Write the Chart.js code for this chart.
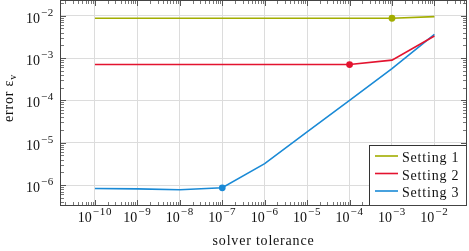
<!DOCTYPE html>
<html lang="en">
<head>
<meta charset="UTF-8">
<title>Error vs solver tolerance</title>
<script src="https://cdn.jsdelivr.net/npm/chart.js"></script>
<style>
  html, body { margin: 0; padding: 0; background: #fff; }
</style>
</head>
<body>
<canvas id="errChart" width="469" height="251"></canvas>
<script>
// data
const tolerances = [1e-10, 1e-9, 1e-8, 1e-7, 1e-6, 1e-5, 1e-4, 1e-3, 1e-2];
const setting1 = [8.7e-3, 8.7e-3, 8.7e-3, 8.7e-3, 8.7e-3, 8.7e-3, 8.7e-3, 8.7e-3, 9.5e-3];
const setting2 = [7.0e-4, 7.0e-4, 7.0e-4, 7.0e-4, 7.0e-4, 7.0e-4, 7.0e-4, 8.9e-4, 3.3e-3];
const setting3 = [8.3e-7, 8.1e-7, 7.7e-7, 8.6e-7, 3.2e-6, 1.8e-5, 1.0e-4, 5.6e-4, 3.6e-3];
const markedTolerance = [1e-3, 1e-4, 1e-7];   // highlighted point per setting
const seriesNames = ['Setting 1', 'Setting 2', 'Setting 3'];
const xTicks = [1e-10, 1e-9, 1e-8, 1e-7, 1e-6, 1e-5, 1e-4, 1e-3, 1e-2];
const yTicks = [1e-6, 1e-5, 1e-4, 1e-3, 1e-2];

const colors = ['#a2ad00', '#e3132f', '#1a8ad6'];
const SERIF = '"Liberation Serif", "Times New Roman", serif';

function makeSet(i, values) {
    return {
        label: seriesNames[i],
        data: tolerances.map((t, j) => ({ x: t, y: values[j] })),
        borderColor: colors[i],
        backgroundColor: colors[i],
        borderWidth: 1.6,
        pointRadius: ctx => (ctx.raw && ctx.raw.x === markedTolerance[i]) ? 3.4 : 0,
        pointBorderWidth: 0,
        tension: 0
    };
}

// draws "10^e" with a raised exponent
function drawPow(ctx, v, x, y, align) {
    const e = Math.round(Math.log10(v));
    const base = '10';
    const sup = (e < 0 ? '\u2212' : '') + Math.abs(e);
    ctx.letterSpacing = '0px';
    ctx.font = '14px ' + SERIF;
    const wb = ctx.measureText(base).width;
    ctx.letterSpacing = '0.7px';
    ctx.font = '11px ' + SERIF;
    const ws = ctx.measureText(sup).width;
    const total = wb + 1 + ws;
    const x0 = align === 'center' ? x - total / 2 : x - total;
    ctx.textAlign = 'left';
    ctx.textBaseline = 'alphabetic';
    ctx.letterSpacing = '0px';
    ctx.font = '14px ' + SERIF;
    ctx.fillText(base, x0, y);
    ctx.letterSpacing = '0.7px';
    ctx.font = '11px ' + SERIF;
    ctx.fillText(sup, x0 + wb + 1, y - 7);
    ctx.letterSpacing = '0px';
}

function minorValues(scale) {
    const out = [];
    const lo = Math.floor(Math.log10(scale.min)), hi = Math.ceil(Math.log10(scale.max));
    for (let d = lo; d <= hi; d++) {
        for (let k = 2; k <= 9; k++) {
            const v = k * Math.pow(10, d);
            if (v > scale.min && v < scale.max) out.push(v);
        }
    }
    return out;
}

const framePlugin = {
    id: 'frame',
    afterDraw(chart) {
        const ctx = chart.ctx;
        const ca = chart.chartArea;
        const xs = chart.scales.x, ys = chart.scales.y;
        const L = Math.round(ca.left) + 0.5, R = Math.round(ca.right) - 0.5;
        const T = Math.round(ca.top) - 0.5, B = Math.round(ca.bottom) - 0.5;
        ctx.save();

        // tick marks on all four sides
        ctx.lineWidth = 0.8;
        ctx.strokeStyle = '#555';
        ctx.beginPath();
        minorValues(xs).forEach(v => {
            const p = Math.round(xs.getPixelForValue(v)) + 0.5;
            ctx.moveTo(p, B); ctx.lineTo(p, B - 3.5);
            ctx.moveTo(p, T); ctx.lineTo(p, T + 3.5);
        });
        minorValues(ys).forEach(v => {
            const p = Math.round(ys.getPixelForValue(v)) + 0.5;
            ctx.moveTo(L, p); ctx.lineTo(L + 3.5, p);
            ctx.moveTo(R, p); ctx.lineTo(R - 3.5, p);
        });
        ctx.stroke();
        ctx.lineWidth = 1;
        ctx.beginPath();
        xTicks.forEach(v => {
            const p = Math.round(xs.getPixelForValue(v)) + 0.5;
            ctx.moveTo(p, B); ctx.lineTo(p, B - 5.5);
            ctx.moveTo(p, T); ctx.lineTo(p, T + 5.5);
        });
        yTicks.forEach(v => {
            const p = Math.round(ys.getPixelForValue(v)) + 0.5;
            ctx.moveTo(L, p); ctx.lineTo(L + 5.5, p);
            ctx.moveTo(R, p); ctx.lineTo(R - 5.5, p);
        });
        ctx.stroke();

        // legend box, bottom right
        const lx = 369.5, ly = 145.5, lw = R - lx, lh = B - ly;
        ctx.fillStyle = '#fff';
        ctx.fillRect(lx, ly, lw, lh);
        ctx.strokeStyle = '#333';
        ctx.lineWidth = 1;
        ctx.strokeRect(lx, ly, lw, lh);
        ctx.letterSpacing = '0.8px';
        seriesNames.forEach((name, i) => {
            const yy = 156 + i * 17.5;
            ctx.strokeStyle = colors[i];
            ctx.lineWidth = 1.6;
            ctx.beginPath();
            ctx.moveTo(375, yy); ctx.lineTo(398, yy);
            ctx.stroke();
            ctx.fillStyle = '#111';
            ctx.font = '14px ' + SERIF;
            ctx.textAlign = 'left';
            ctx.textBaseline = 'alphabetic';
            ctx.fillText(name, 402, yy + 6);
        });
        ctx.letterSpacing = '0px';

        // frame
        ctx.strokeStyle = '#444';
        ctx.lineWidth = 1;
        ctx.strokeRect(L, T, R - L, B - T);

        // tick labels
        ctx.fillStyle = '#111';
        xTicks.forEach(v => drawPow(ctx, v, xs.getPixelForValue(v), 222, 'center'));
        yTicks.forEach(v => drawPow(ctx, v, 54, ys.getPixelForValue(v) + 7, 'right'));

        // axis titles
        ctx.letterSpacing = '0.8px';
        ctx.font = '14px ' + SERIF;
        ctx.textAlign = 'center';
        ctx.fillText('solver tolerance', (ca.left + ca.right) / 2, 245);

        ctx.translate(12.5, 98);
        ctx.rotate(-Math.PI / 2);
        const main = 'error \u03b5';
        const wm = ctx.measureText(main).width;
        ctx.font = '10px ' + SERIF;
        const wv = ctx.measureText('v').width;
        const start = -(wm + wv) / 2;
        ctx.textAlign = 'left';
        ctx.font = '14px ' + SERIF;
        ctx.fillText(main, start, 0);
        ctx.font = '10px ' + SERIF;
        ctx.fillText('v', start + wm, 3);
        ctx.restore();
    }
};

const ctx = document.getElementById('errChart').getContext('2d');
new Chart(ctx, {
    type: 'line',
    data: {
        datasets: [
            makeSet(0, setting1),
            makeSet(1, setting2),
            makeSet(2, setting3)
        ]
    },
    options: {
        responsive: false,
        animation: false,
        layout: { padding: { top: 1, right: 2, left: 0, bottom: 0 } },
        plugins: { legend: { display: false }, tooltip: { enabled: false } },
        scales: {
            x: {
                type: 'logarithmic',
                min: Math.pow(10, -10.824),
                max: Math.pow(10, -1.232),
                afterBuildTicks: s => { s.ticks = xTicks.map(v => ({ value: v })); },
                afterFit: s => { s.height = 45; },
                ticks: { display: false },
                grid: { color: '#dcdcdc', lineWidth: 1, drawTicks: false },
                border: { display: false }
            },
            y: {
                type: 'logarithmic',
                min: Math.pow(10, -6.496),
                max: Math.pow(10, -1.653),
                afterBuildTicks: s => { s.ticks = yTicks.map(v => ({ value: v })); },
                afterFit: s => { s.width = 60; },
                ticks: { display: false },
                grid: { color: '#dcdcdc', lineWidth: 1, drawTicks: false },
                border: { display: false }
            }
        }
    },
    plugins: [framePlugin]
});
</script>
</body>
</html>
